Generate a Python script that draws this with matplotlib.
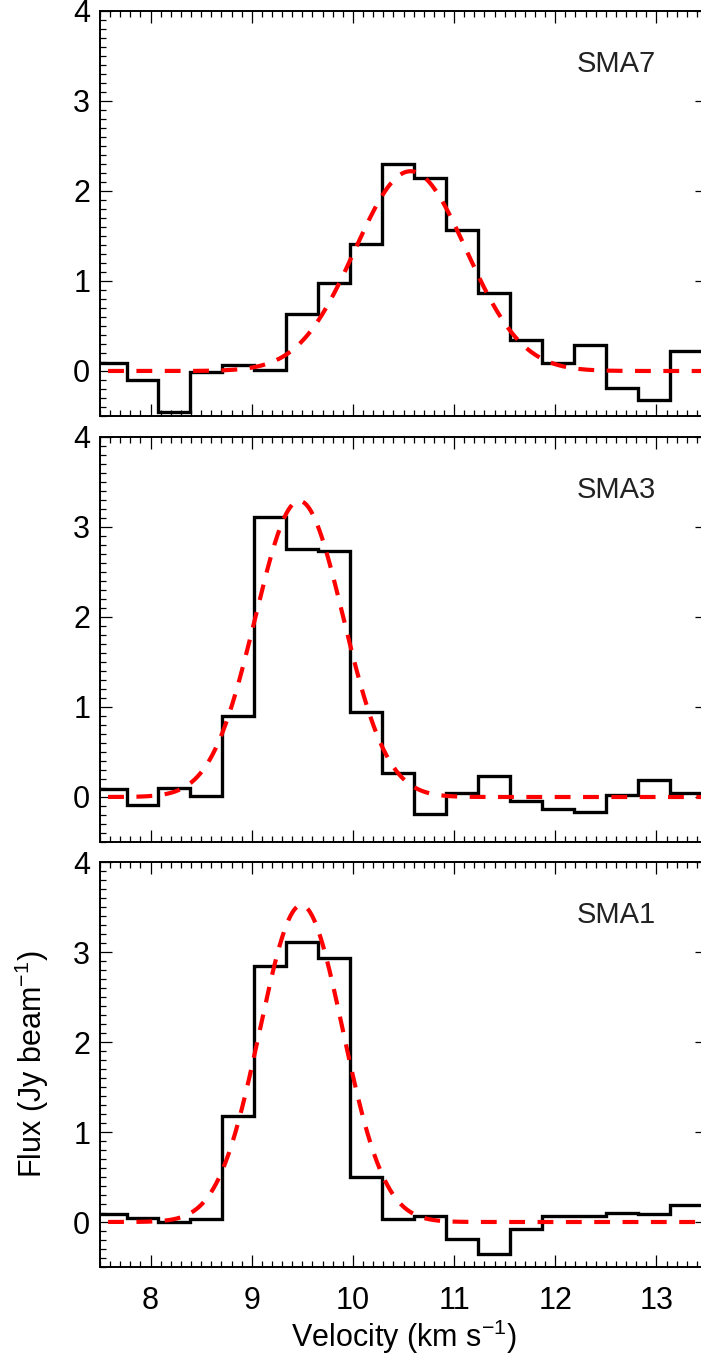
#!/usr/bin/env python3
"""Line profiles of three SMA cores with their Gaussian fits."""

import matplotlib
matplotlib.use("Agg")
import matplotlib.pyplot as plt
import numpy as np
from matplotlib.ticker import MultipleLocator

plt.rcParams["font.family"] = ["Liberation Sans", "DejaVu Sans"]
plt.rcParams["mathtext.fontset"] = "custom"
plt.rcParams["mathtext.rm"] = "Liberation Sans"
plt.rcParams["mathtext.it"] = "Liberation Sans"

# channel centres (km/s), channel width 0.316 km/s
velocity = [7.604, 7.920, 8.236, 8.552, 8.868, 9.184, 9.500, 9.816, 10.132, 10.448,
            10.764, 11.080, 11.396, 11.712, 12.028, 12.344, 12.660, 12.976, 13.292]
chan_width = 0.316

names = ["SMA7", "SMA3", "SMA1"]

flux_sma7 = [0.085, -0.10, -0.45, -0.01, 0.07, 0.01, 0.63, 0.98, 1.41, 2.30,
             2.14, 1.57, 0.87, 0.34, 0.085, 0.29, -0.19, -0.32, 0.22]
flux_sma3 = [0.09, -0.09, 0.10, 0.01, 0.90, 3.11, 2.76, 2.73, 0.95, 0.265,
             -0.19, 0.05, 0.235, -0.04, -0.13, -0.165, 0.02, 0.19, 0.05]
flux_sma1 = [0.085, 0.04, 0.005, 0.03, 1.18, 2.84, 3.115, 2.93, 0.50, 0.035,
             0.07, -0.19, -0.36, -0.08, 0.07, 0.07, 0.10, 0.085, 0.19]

# Gaussian fit parameters: amplitude (Jy/beam), centre (km/s), sigma (km/s)
fit_amp = [2.22, 3.29, 3.52]
fit_center = [10.57, 9.47, 9.49]
fit_sigma = [0.55, 0.435, 0.41]

W, H = 701, 1357
LEFT, WIDTH = 100, 607
PANEL_TOPS = [11, 437, 862]
PANEL_H = 405
FS = 22


def style_axis(ax):
    ax.set_xlim(7.5, 13.5)
    ax.set_ylim(-0.5, 4.0)
    ax.xaxis.set_major_locator(MultipleLocator(1))
    ax.xaxis.set_minor_locator(MultipleLocator(0.1))
    ax.yaxis.set_major_locator(MultipleLocator(1))
    ax.yaxis.set_minor_locator(MultipleLocator(0.1))
    ax.tick_params(which="both", direction="in", top=True, right=True, width=0.9)
    ax.tick_params(which="major", length=8.6)
    ax.tick_params(which="minor", length=4.0)
    ax.tick_params(axis="y", labelsize=FS, pad=7)
    ax.tick_params(axis="x", labelsize=FS, pad=14)
    for s in ax.spines.values():
        s.set_linewidth(1.4)


def main():
    fig = plt.figure(figsize=(W / 100, H / 100), dpi=100)

    edges = np.append(np.array(velocity) - chan_width / 2, velocity[-1] + chan_width / 2)
    v_model = np.linspace(7.3, 13.7, 600)
    fluxes = [flux_sma7, flux_sma3, flux_sma1]

    axes = []
    for i, top in enumerate(PANEL_TOPS):
        ax = fig.add_axes([LEFT / W, (H - top - PANEL_H) / H, WIDTH / W, PANEL_H / H])
        style_axis(ax)

        ax.stairs(fluxes[i], edges, baseline=None, color="black", linewidth=2.4)
        model = fit_amp[i] * np.exp(-0.5 * ((v_model - fit_center[i]) / fit_sigma[i]) ** 2)
        ax.plot(v_model, model, color="#ff0000", linewidth=3.0, dashes=(3.8, 3.0))

        ax.text(0.786, 0.869, names[i], transform=ax.transAxes, fontsize=FS - 1,
                color="#222222", ha="left", va="center")
        if i < 2:
            ax.tick_params(axis="x", labelbottom=False)
        axes.append(ax)

    axes[2].set_xlabel("Velocity (km s$^{-1}$)", fontsize=FS, labelpad=1)
    axes[2].set_ylabel("Flux (Jy beam$^{-1}$)", fontsize=FS)
    axes[2].yaxis.set_label_coords(-0.080, 0.5)

    fig.savefig("out.png", dpi=100)


if __name__ == "__main__":
    main()
